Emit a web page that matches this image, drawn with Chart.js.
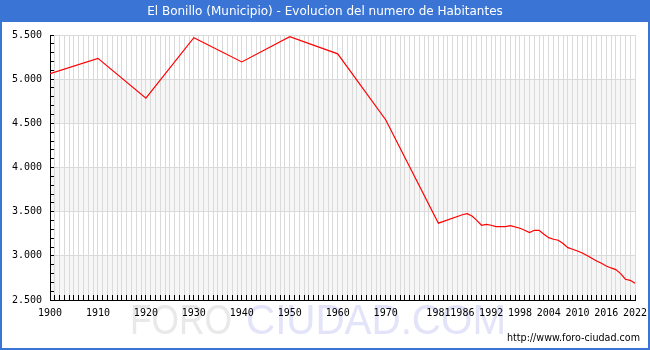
<!DOCTYPE html>
<html>
<head>
<meta charset="utf-8">
<script src="https://cdn.jsdelivr.net/npm/chart.js@4.4.1/dist/chart.umd.min.js"></script>
<style>
  html, body { margin: 0; padding: 0; background: #ffffff; }
  #wrap { position: relative; width: 650px; height: 350px; }
  canvas { display: block; }
</style>
</head>
<body>
<div id="wrap"><canvas id="c" width="650" height="350"></canvas></div>
<script>
// ---- data ----
const titleText = "El Bonillo (Municipio) - Evolucion del numero de Habitantes";
const years = [1900, 1910, 1920, 1930, 1940, 1950, 1960, 1970, 1981, 1986, 1987, 1988, 1989, 1990,
  1991, 1992, 1993, 1994, 1995, 1996, 1998, 1999, 2000, 2001, 2002, 2003, 2004, 2005, 2006, 2007,
  2008, 2009, 2010, 2011, 2012, 2013, 2014, 2015, 2016, 2017, 2018, 2019, 2020, 2021, 2022];
const population = [5063, 5235, 4785, 5470, 5195, 5480, 5287, 4541, 3370, 3465, 3478, 3450, 3402, 3346,
  3357, 3346, 3331, 3331, 3331, 3342, 3312, 3289, 3263, 3289, 3289, 3244, 3206, 3188, 3176, 3139,
  3093, 3074, 3055, 3032, 3003, 2972, 2942, 2916, 2885, 2863, 2844, 2799, 2735, 2723, 2690];
const xLabelYears = [1900, 1910, 1920, 1930, 1940, 1950, 1960, 1970, 1981, 1986, 1992, 1998, 2004, 2010, 2016, 2022];
const yTickValues = [2500, 3000, 3500, 4000, 4500, 5000, 5500];
const yMin = 2500, yMax = 5500, xMin = 1900, xMax = 2022;

const BLUE = '#3a75d6';
const GRID = '#dadada';
const BAND = '#f6f6f6';

function fmt(v) {
  const t = Math.floor(v / 1000), r = v % 1000;
  return t > 0 ? t + '.' + String(r).padStart(3, '0') : String(r);
}

function fitText(ctx, text, x, y, width) {
  const w = ctx.measureText(text).width;
  ctx.save();
  ctx.translate(x, y);
  ctx.scale(width / w, 1);
  ctx.fillText(text, 0, 0);
  ctx.restore();
}

const deco = {
  id: 'deco',
  beforeDraw(chart) {
    const ctx = chart.ctx, a = chart.chartArea, y = chart.scales.y;
    ctx.save();
    // alternating bands
    ctx.fillStyle = BAND;
    for (let v = yMin; v < yMax; v += 1000) {
      const top = y.getPixelForValue(v + 500), bot = y.getPixelForValue(v);
      ctx.fillRect(a.left, top, a.right - a.left, bot - top);
    }
    // title bar
    ctx.fillStyle = BLUE;
    ctx.fillRect(0, 0, 650, 22);
    ctx.fillStyle = '#ffffff';
    ctx.font = '12px "DejaVu Sans"';
    ctx.textAlign = 'center';
    ctx.textBaseline = 'middle';
    ctx.fillText(titleText, 325, 11.5);
    // watermark
    ctx.font = '42px "Liberation Sans"';
    ctx.textBaseline = 'alphabetic';
    ctx.textAlign = 'left';
    ctx.fillStyle = '#e9e9e9';
    fitText(ctx, 'FORO', 130, 334, 102);
    ctx.fillStyle = '#e3e3fa';
    fitText(ctx, 'CIUDAD.COM', 246, 334, 260);
    ctx.restore();
  },
  afterDraw(chart) {
    const ctx = chart.ctx, a = chart.chartArea, x = chart.scales.x, y = chart.scales.y;
    ctx.save();
    ctx.strokeStyle = '#000000';
    ctx.lineWidth = 1;
    ctx.beginPath();
    for (let yr = xMin; yr <= xMax; yr++) {
      const px = Math.round(x.getPixelForValue(yr) - 0.5) + 0.5;
      ctx.moveTo(px, a.bottom - 5);
      ctx.lineTo(px, a.bottom);
    }
    for (let v = yMin; v <= yMax; v += 100) {
      const py = Math.round(y.getPixelForValue(v) - 0.5) + 0.5;
      ctx.moveTo(a.left, py);
      ctx.lineTo(a.left + 4, py);
    }
    ctx.stroke();
    // url
    ctx.fillStyle = '#000000';
    ctx.font = '10px "DejaVu Sans"';
    ctx.textAlign = 'left';
    ctx.textBaseline = 'middle';
    fitText(ctx, 'http://www.foro-ciudad.com', 507, 338, 133);
    // frame
    ctx.strokeStyle = BLUE;
    ctx.lineWidth = 2;
    ctx.strokeRect(1, 1, 648, 348);
    ctx.restore();
  }
};

new Chart(document.getElementById('c'), {
  type: 'line',
  data: {
    datasets: [{
      data: years.map((yr, i) => ({ x: yr, y: population[i] })),
      borderColor: '#ff0000',
      borderWidth: 1.2,
      pointRadius: 0,
      tension: 0,
      fill: false
    }]
  },
  options: {
    responsive: false,
    animation: false,
    devicePixelRatio: 1,
    layout: { padding: { top: 35, left: 0, right: 15, bottom: 0 } },
    plugins: { legend: { display: false }, tooltip: { enabled: false }, title: { display: false } },
    scales: {
      x: {
        type: 'linear',
        min: xMin, max: xMax,
        afterBuildTicks(scale) {
          const t = [];
          for (let yr = xMin; yr <= xMax; yr++) t.push({ value: yr });
          scale.ticks = t;
        },
        afterFit(scale) {
          scale.height = 50;
          scale.paddingLeft = 0; scale.paddingRight = 0;
        },
        ticks: {
          autoSkip: false, maxRotation: 0, minRotation: 0,
          padding: 7, color: '#000000',
          font: { family: 'DejaVu Sans Mono', size: 10 },
          callback: (v) => xLabelYears.includes(v) ? String(v) : ''
        },
        grid: { color: GRID, lineWidth: 1, drawTicks: false },
        border: { display: true, color: '#000000', width: 1 }
      },
      y: {
        min: yMin, max: yMax,
        afterBuildTicks(scale) { scale.ticks = yTickValues.map(v => ({ value: v })); },
        afterFit(scale) {
          scale.width = 50;
          scale.paddingTop = 0; scale.paddingBottom = 0;
        },
        ticks: {
          padding: 8, color: '#000000',
          font: { family: 'DejaVu Sans Mono', size: 10 },
          callback: (v) => fmt(v)
        },
        grid: { color: GRID, lineWidth: 1, drawTicks: false },
        border: { display: true, color: '#000000', width: 1 }
      }
    }
  },
  plugins: [deco]
});
</script>
</body>
</html>
